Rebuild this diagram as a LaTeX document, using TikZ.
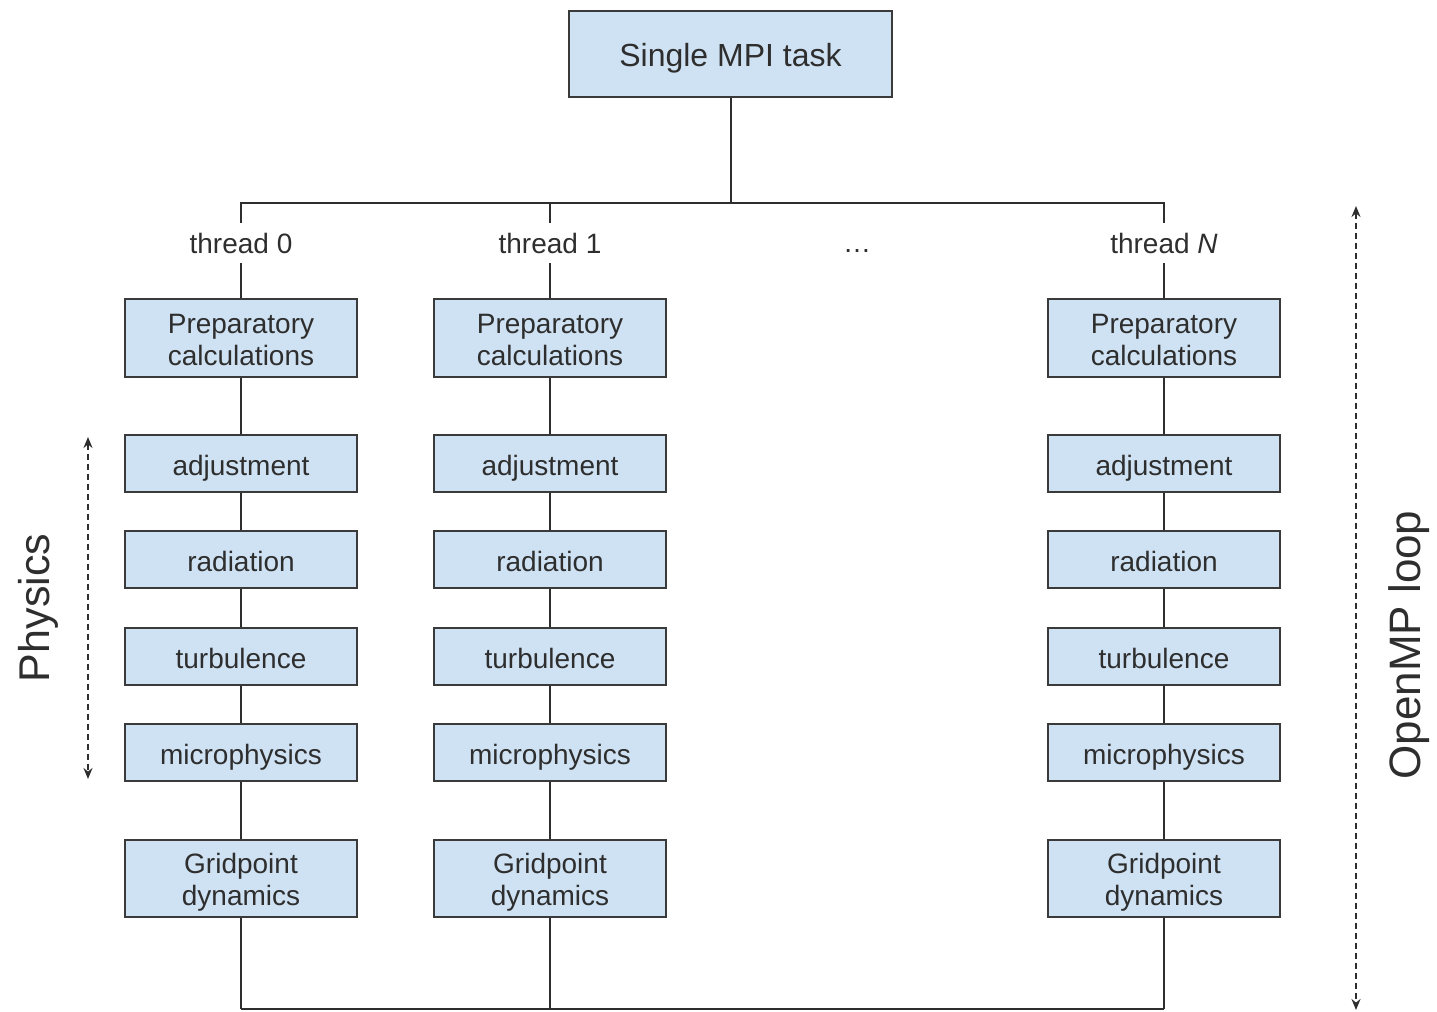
\documentclass[tikz,border=0pt]{standalone}
\usepackage{fontspec}
\setmainfont{Liberation Sans}
\usetikzlibrary{arrows.meta}
\definecolor{boxfill}{HTML}{CFE2F3}
\definecolor{boxline}{HTML}{3A3A3A}
\definecolor{ink}{HTML}{2E2E2E}
\begin{document}
\begin{tikzpicture}[x=0.5pt,y=-0.5pt,
  box/.style={draw=boxline, line width=1pt, fill=boxfill, text=ink,
    minimum width=116pt, minimum height=28.5pt, inner sep=0pt, align=center,
    font=\fontsize{14}{16}\selectfont},
  onerow/.style={text height=14.4pt, text depth=2.9pt},
  tworow/.style={minimum height=39pt, text height=27pt, text depth=0pt},
  lbl/.style={text=ink, inner sep=0pt, minimum height=19.5pt,
    font=\fontsize{14}{16.5}\selectfont},
  link/.style={draw=ink, line width=1pt},
  span/.style={draw=ink, line width=1pt, dash pattern=on 3pt off 2pt,
    {Stealth[length=5.5pt,width=4.5pt]}-{Stealth[length=5.5pt,width=4.5pt]}},
  side/.style={text=ink, rotate=90, inner sep=0pt}]
\useasboundingbox (0,0) rectangle (1437,1012);

% root task
\node[box, minimum width=161.5pt, minimum height=43pt,
  font=\fontsize{16}{19}\selectfont, text height=16.4pt, text depth=3.4pt]
  (mpi) at (730.5,54) {Single MPI task};
\coordinate (hub) at (730.5,203);

% one column of work per thread
\foreach \id/\x/\lab in {a/241/{thread 0}, b/550/{thread 1}, n/1164/{thread \textit{N}}} {
  \node[lbl] (\id-t) at (\x,243) {\lab};
  \node[box, tworow] (\id-p) at (\x,338) {Preparatory\\calculations};
  \node[box, onerow] (\id-a) at (\x,463.5) {adjustment};
  \node[box, onerow] (\id-r) at (\x,559.5) {radiation};
  \node[box, onerow] (\id-u) at (\x,656.5) {turbulence};
  \node[box, onerow] (\id-m) at (\x,752.5) {microphysics};
  \node[box, tworow, minimum height=38.5pt] (\id-g) at (\x,878.5) {Gridpoint\\dynamics};
  \coordinate (\id-e) at (\x,1009);
  \draw[link] (\id-t) -- (\id-p) -- (\id-a) -- (\id-r) -- (\id-u)
    -- (\id-m) -- (\id-g) -- (\id-e);
}
\node[text=ink, inner sep=0pt, font=\fontsize{14}{16.5}\selectfont]
  (dots) at (857,251) {\ldots};

% fork and join
\draw[link] (mpi) -- (hub);
\draw[link] (a-t.north) |- (hub) -| (n-t.north);
\draw[link] (b-t.north) -- (b-t.north |- hub);
\draw[link] (a-e) -- (n-e);

% extent markers
\coordinate (ph-top) at (88,437);
\coordinate (ph-bot) at (88,779);
\draw[span] (ph-top) -- (ph-bot);
\node[side, font=\fontsize{21.5}{26}\selectfont] (phys) at (38,608) {Physics};

\coordinate (omp-top) at (1356,206);
\coordinate (omp-bot) at (1356,1010);
\draw[span] (omp-top) -- (omp-bot);
\node[side, font=\fontsize{22}{26}\selectfont] (omp) at (1409,645) {OpenMP loop};
\end{tikzpicture}
\end{document}
